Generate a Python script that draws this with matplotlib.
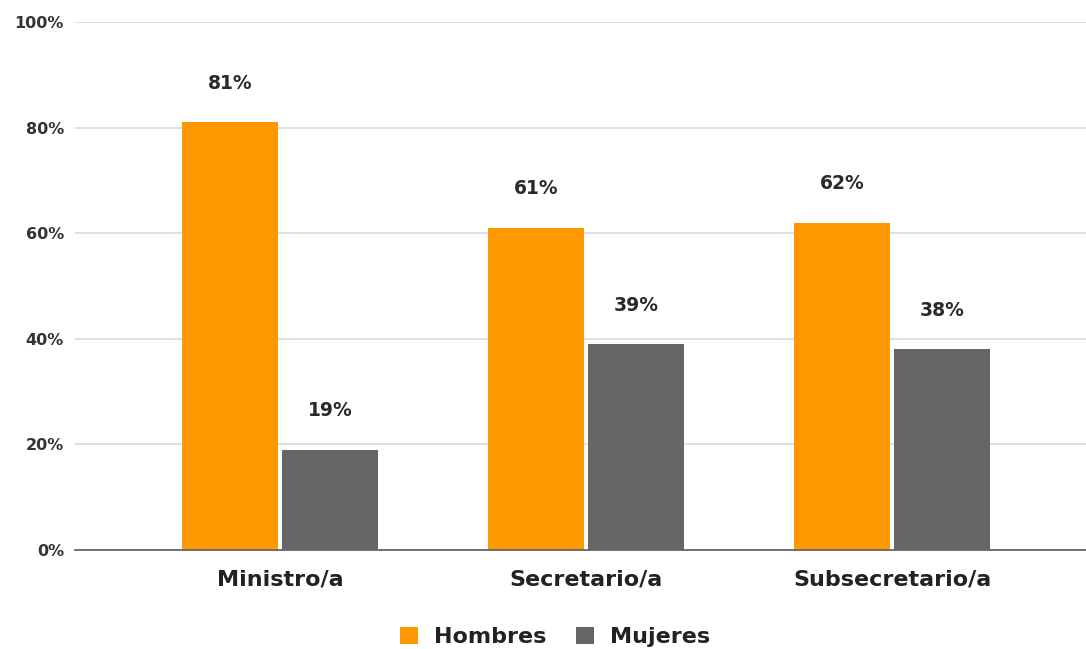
import numpy as np
import matplotlib.pyplot as plt

categories = ['Ministro/a', 'Secretario/a', 'Subsecretario/a']
hombres = [81, 61, 62]
mujeres = [19, 39, 38]
series_names = ['Hombres', 'Mujeres']
colors = ['#FF9900', '#666666']

plt.rcParams['font.family'] = ['DejaVu Sans']

fig = plt.figure(figsize=(10.86, 6.49), dpi=100)
ax = fig.add_axes([75 / 1086, 1 - 550 / 649, 1011 / 1086, 528 / 649])

x = np.arange(len(categories))
w = 0.314
off = 0.164
b1 = ax.bar(x - off, hombres, w, color=colors[0], label=series_names[0], zorder=3)
b2 = ax.bar(x + off, mujeres, w, color=colors[1], label=series_names[1], zorder=3)

# value labels above each bar
for bars, vals in ((b1, hombres), (b2, mujeres)):
    for b, v in zip(bars, vals):
        ax.text(b.get_x() + b.get_width() / 2, v + 7.4, f'{v}%', ha='center', va='center',
                fontsize=13.5, fontweight='bold', color='#2a2a2a')

ax.set_ylim(0, 100)
ax.set_xlim(-0.67, 2.634)
ax.set_yticks(range(0, 101, 20))
ax.set_yticklabels([f'{t}%' for t in range(0, 101, 20)], fontsize=11.5, fontweight='bold', color='#333333')
ax.set_xticks(x)
ax.set_xticklabels(categories, fontsize=16, fontweight='bold', color='#222222')
ax.tick_params(axis='both', length=0)
ax.tick_params(axis='y', pad=8)
ax.tick_params(axis='x', pad=14)
ax.grid(axis='y', color='#d9d9d9', linewidth=1.2, zorder=0)
for s in ('top', 'right', 'left'):
    ax.spines[s].set_visible(False)
ax.spines['bottom'].set_color('#666666')
ax.spines['bottom'].set_linewidth(1.3)
ax.spines['bottom'].set_zorder(4)

leg = fig.legend(loc='center', bbox_to_anchor=(555 / 1086, 1 - 637 / 649), ncol=2, frameon=False,
                 prop={'size': 16, 'weight': 'bold'}, handlelength=0.82, handleheight=0.82,
                 handletextpad=0.7, columnspacing=1.35)
for t in leg.get_texts():
    t.set_color('#222222')

fig.savefig('out.png', dpi=100)
